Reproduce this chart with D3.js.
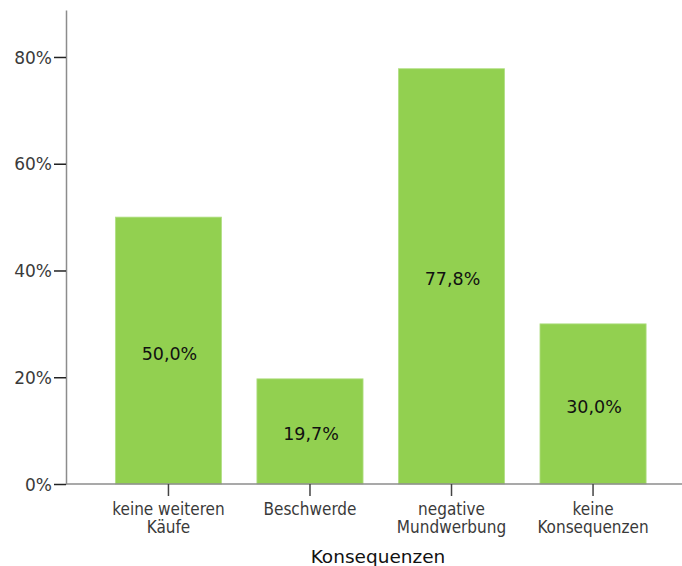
<!DOCTYPE html>
<html>
<head>
<meta charset="utf-8">
<script src="https://cdn.jsdelivr.net/npm/d3@7"></script>
<style>
  html, body { margin: 0; padding: 0; background: #fff; }
  svg { display: block; }
</style>
</head>
<body>
<svg id="chart" width="682" height="566"></svg>
<script>
// Consequences of dissatisfaction, share of respondents (%)
const categories = [
  ["keine weiteren", "Käufe"],
  ["Beschwerde"],
  ["negative", "Mundwerbung"],
  ["keine", "Konsequenzen"]
];
const values = [50.0, 19.7, 77.8, 30.0];
const yTicks = [0, 20, 40, 60, 80];
const axisTitle = "Konsequenzen";

const svg = d3.select("#chart");
const tickFont = "'DejaVu Sans Condensed', 'DejaVu Sans', sans-serif";
const labelFont = "'DejaVu Sans', sans-serif";

const keys = categories.map(c => c.join(" "));

const x = d3.scaleBand()
  .domain(keys)
  .range([80, 681.5])
  .paddingInner(0.25)
  .paddingOuter(0.25);

const y = d3.scaleLinear()
  .domain([0, 88.8])
  .range([484, 10]);

const axisX = 66;

// bars
svg.append("g")
  .selectAll("rect")
  .data(values)
  .join("rect")
  .attr("x", (d, i) => x(keys[i]))
  .attr("y", d => y(d))
  .attr("width", x.bandwidth())
  .attr("height", d => y(0) - y(d))
  .attr("fill", "#92d050")
  .attr("stroke", "#b2df86")
  .attr("stroke-width", 0.8);

// value labels in the middle of each bar
svg.append("g")
  .selectAll("text")
  .data(values)
  .join("text")
  .attr("x", (d, i) => x(keys[i]) + x.bandwidth() / 2 + 1)
  .attr("y", d => (y(d) + y(0)) / 2 + 9)
  .attr("text-anchor", "middle")
  .attr("font-family", labelFont)
  .attr("font-size", "17.5px")
  .attr("fill", "#111")
  .text(d => d.toFixed(1).replace(".", ",") + "%");

// y axis
const gy = svg.append("g")
  .attr("transform", `translate(${axisX},0)`)
  .call(d3.axisLeft(y)
    .tickValues(yTicks)
    .tickSize(12)
    .tickSizeOuter(0)
    .tickPadding(2)
    .tickFormat(d => d + "%"));
gy.select(".domain").attr("stroke", "#8c8c8c").attr("stroke-width", 1.5);
gy.selectAll(".tick line").attr("stroke", "#222").attr("stroke-width", 1.5);
gy.selectAll(".tick text")
  .attr("font-family", labelFont)
  .attr("font-size", "17px")
  .attr("fill", "#3a3a3a")
  .attr("dy", "0.36em");

// baseline
svg.append("line")
  .attr("x1", axisX).attr("x2", 682)
  .attr("y1", y(0)).attr("y2", y(0))
  .attr("stroke", "#8c8c8c")
  .attr("stroke-width", 1.5);

// x axis ticks and category labels
const gx = svg.append("g")
  .attr("transform", `translate(0,${y(0)})`)
  .call(d3.axisBottom(x).tickSize(12).tickSizeOuter(0).tickFormat(""));
gx.select(".domain").remove();
gx.selectAll(".tick line").attr("stroke", "#444").attr("stroke-width", 1.5);

const catLabels = svg.append("g")
  .selectAll("text")
  .data(categories)
  .join("text")
  .attr("text-anchor", "middle")
  .attr("font-family", tickFont)
  .attr("font-size", "17px")
  .attr("fill", "#3a3a3a")
  .attr("transform", (d, i) => `translate(${x(keys[i]) + x.bandwidth() / 2},${y(0) + 30.5})`);
catLabels.selectAll("tspan")
  .data(d => d)
  .join("tspan")
  .attr("x", 0)
  .attr("dy", (d, i) => i === 0 ? 0 : 18.5)
  .text(d => d);

// axis title
svg.append("text")
  .attr("x", 378)
  .attr("y", 563)
  .attr("text-anchor", "middle")
  .attr("font-family", labelFont)
  .attr("font-size", "18.5px")
  .attr("fill", "#111")
  .text(axisTitle);
</script>
</body>
</html>
